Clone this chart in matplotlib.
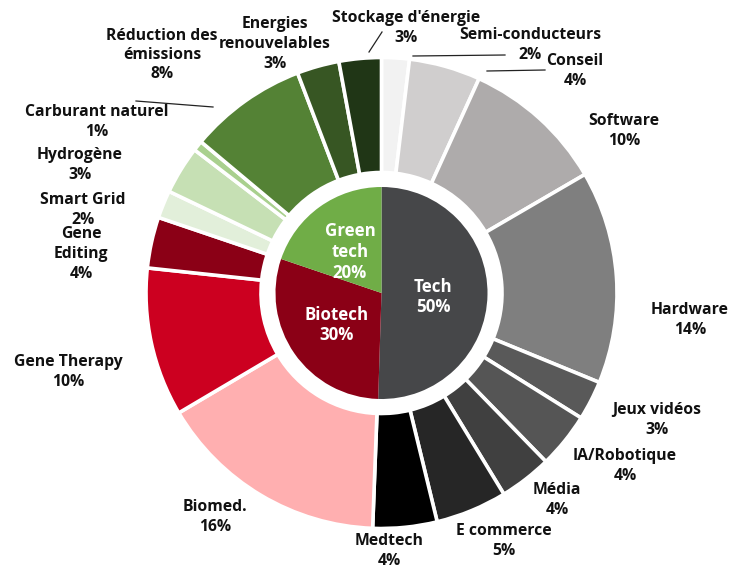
import matplotlib
matplotlib.use("Agg")
import matplotlib.pyplot as plt

# ---- data ----
outer_labels = ["Semi-conducteurs", "Conseil", "Software", "Hardware", "Jeux vidéos",
                "IA/Robotique", "Média", "E commerce", "Medtech",
                "Biomed.", "Gene Therapy", "Gene\nEditing",
                "Smart Grid", "Hydrogène", "Carburant naturel",
                "Réduction des\némissions", "Energies\nrenouvelables", "Stockage d'énergie"]
# wedge shares
outer_shares = [1.9, 4.9, 9.8, 14.6, 2.7, 3.8, 3.6, 4.9, 4.4,
                15.9, 10.2, 3.5,
                1.9, 3.3, 0.7, 8.1, 2.9, 2.9]
# percentages as printed on the chart
outer_pct = [2, 4, 10, 14, 3, 4, 4, 5, 4, 16, 10, 4, 2, 3, 1, 8, 3, 3]
inner_labels = ["Tech", "Biotech", "Green\ntech"]
inner_shares = [50.5, 29.7, 19.8]
inner_pct = [50, 30, 20]

# ---- styles ----
outer_colors = ["#f2f2f2", "#d0cece", "#aeabab", "#7f7f7f", "#595959",
                "#555555", "#404040", "#262626", "#000000",
                "#ffafb0", "#cc0020", "#8b0016",
                "#e2efda", "#c6e0b4", "#a9d08e", "#548235", "#375623", "#203616"]
inner_colors = ["#464749", "#8b0016", "#70ad47"]

W, H = 744, 571
fig = plt.figure(figsize=(W / 100, H / 100), dpi=100)
ax = fig.add_axes([0, 0, 1, 1])

cx, cy = 381.5, H - 293
R = 235.5

ax.pie(outer_shares, colors=outer_colors, startangle=90, counterclock=False,
       radius=R, center=(cx, cy),
       wedgeprops=dict(width=115, edgecolor="white", linewidth=2.6))
ax.pie(inner_shares, colors=inner_colors, startangle=90, counterclock=False,
       radius=106, center=(cx, cy), wedgeprops=dict(linewidth=0))
ax.set_xlim(0, W)
ax.set_ylim(0, H)
ax.set_aspect("equal")
ax.axis("off")

FAM = ["Open Sans", "DejaVu Sans"]


def block(x, y, lines, step, color, size):
    n = len(lines)
    for i, s in enumerate(lines):
        yy = y + (i - (n - 1) / 2) * step
        ax.text(x, H - yy, s, ha="center", va="center", color=color,
                family=FAM, fontweight="bold", fontsize=size)


# label positions (pixel coords, top-left origin)
outer_pos = [(530, 45), (575, 71), (624, 131), (690, 320), (657, 420),
             (625, 466), (557, 500), (504, 541), (389, 551),
             (215, 517), (68, 372), (81, 254),
             (83, 210), (80, 165), (97, 122),
             (162, 55), (275, 44), (406, 28)]
for lab, v, (x, y) in zip(outer_labels, outer_pct, outer_pos):
    block(x, y, lab.split("\n") + [f"{v}%"], 19.5, "#111111", 11.3)

inner_pos = [(433, 297), (337, 325), (350, 252)]
for lab, v, (x, y) in zip(inner_labels, inner_pct, inner_pos):
    block(x, y, lab.split("\n") + [f"{v}%"], 21, "white", 12.2)

# leader lines
leaders = [((382, 32), (369, 52)), ((413, 56), (505, 55)),
           ((487, 71), (545, 70)), ((136, 101), (213, 107))]
for (x0, y0), (x1, y1) in leaders:
    ax.plot([x0, x1], [H - y0, H - y1], color="#222222", lw=0.9)

fig.savefig("out.png", dpi=100)
